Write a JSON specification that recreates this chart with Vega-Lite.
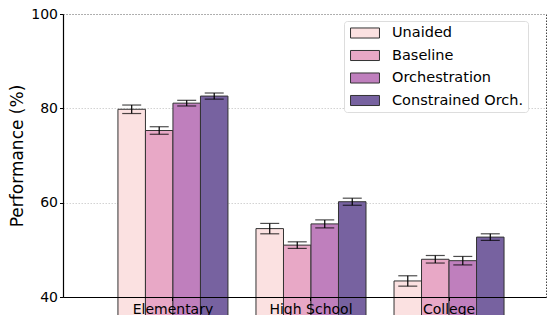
{
  "$schema": "https://vega.github.io/schema/vega-lite/v6.json",
  "width": 483,
  "height": 283,
  "autosize": {"type": "none"},
  "padding": {"left": 63, "top": 14, "right": 12, "bottom": 40},
  "background": "white",
  "config": {
    "font": "DejaVu Sans",
    "view": {"stroke": "#444", "strokeDash": [1.5, 1.5], "strokeWidth": 1}
  },
  "data": {
    "values": [
      {"level": "Elementary", "method": "Unaided", "value": 79.8, "lo": 78.9, "hi": 80.7},
      {"level": "Elementary", "method": "Baseline", "value": 75.3, "lo": 74.5, "hi": 76.1},
      {"level": "Elementary", "method": "Orchestration", "value": 81.1, "lo": 80.5, "hi": 81.7},
      {"level": "Elementary", "method": "Constrained Orch.", "value": 82.6, "lo": 81.95, "hi": 83.25},
      {"level": "High School", "method": "Unaided", "value": 54.5, "lo": 53.4, "hi": 55.6},
      {"level": "High School", "method": "Baseline", "value": 51.0, "lo": 50.3, "hi": 51.7},
      {"level": "High School", "method": "Orchestration", "value": 55.5, "lo": 54.65, "hi": 56.35},
      {"level": "High School", "method": "Constrained Orch.", "value": 60.2, "lo": 59.45, "hi": 60.95},
      {"level": "College", "method": "Unaided", "value": 43.4, "lo": 42.3, "hi": 44.5},
      {"level": "College", "method": "Baseline", "value": 48.0, "lo": 47.2, "hi": 48.8},
      {"level": "College", "method": "Orchestration", "value": 47.7, "lo": 46.8, "hi": 48.6},
      {"level": "College", "method": "Constrained Orch.", "value": 52.7, "lo": 52.0, "hi": 53.4}
    ]
  },
  "encoding": {
    "x": {
      "field": "level",
      "type": "nominal",
      "sort": ["Elementary", "High School", "College"],
      "scale": {"paddingInner": 0.203, "paddingOuter": 0.351, "align": 0.567},
      "axis": {
        "title": null,
        "labelAngle": 0,
        "labelFontSize": 14,
        "labelColor": "black",
        "labelPadding": 1.5,
        "domainColor": "black",
        "domainWidth": 1.2,
        "tickColor": "black",
        "tickSize": 3.5,
        "grid": false,
        "zindex": 2
      }
    },
    "xOffset": {
      "field": "method",
      "sort": ["Unaided", "Baseline", "Orchestration", "Constrained Orch."],
      "scale": {"paddingInner": 0, "paddingOuter": 0}
    }
  },
  "layer": [
    {
      "mark": {"type": "bar", "color": "#999", "opacity": 0.55, "xOffset": 1.5, "yOffset": 1.5},
      "encoding": {
        "y": {"field": "value", "type": "quantitative"}
      }
    },
    {
      "mark": {"type": "bar", "stroke": "#333", "strokeWidth": 1, "opacity": 1},
      "encoding": {
        "y": {
          "field": "value",
          "type": "quantitative",
          "scale": {"domain": [40, 100], "nice": false, "zero": false},
          "axis": {
            "values": [40, 60, 80, 100],
            "title": "Performance (%)",
            "titleFontSize": 17,
            "titleFontWeight": "normal",
            "titleColor": "black",
            "titlePadding": 4,
            "labelFontSize": 14,
            "labelColor": "black",
            "labelPadding": 2,
            "domainColor": "black",
            "domainWidth": 1.2,
            "tickColor": "black",
            "tickSize": 3.5,
            "grid": true,
            "gridColor": "#c8c8c8",
            "gridDash": [1.5, 1.5],
            "gridWidth": 0.8
          }
        },
        "fill": {
          "field": "method",
          "type": "nominal",
          "scale": {
            "domain": ["Unaided", "Baseline", "Orchestration", "Constrained Orch."],
            "range": ["#fbe1e1", "#e8a8c6", "#bf7fbd", "#7762a0"]
          },
          "legend": {
            "title": null,
            "orient": "none",
            "legendX": 281,
            "legendY": 7,
            "fillColor": "white",
            "strokeColor": "#ddd",
            "cornerRadius": 3,
            "padding": 4,
            "labelFontSize": 14.5,
            "labelColor": "black",
            "symbolType": "M-1.93,-0.67H1.93V0.67H-1.93Z",
            "symbolSize": 225,
            "symbolOffset": 9,
            "labelOffset": 19,
            "rowPadding": 6.5,
            "symbolStrokeColor": "#333",
            "symbolStrokeWidth": 1,
            "symbolOpacity": 1
          }
        }
      }
    },
    {
      "mark": {"type": "rule", "color": "black", "strokeWidth": 1.2},
      "encoding": {
        "y": {"field": "lo", "type": "quantitative"},
        "y2": {"field": "hi"}
      }
    },
    {
      "mark": {"type": "tick", "color": "black", "thickness": 1.2, "size": 19},
      "encoding": {"y": {"field": "lo", "type": "quantitative"}}
    },
    {
      "mark": {"type": "tick", "color": "black", "thickness": 1.2, "size": 19},
      "encoding": {"y": {"field": "hi", "type": "quantitative"}}
    }
  ]
}
